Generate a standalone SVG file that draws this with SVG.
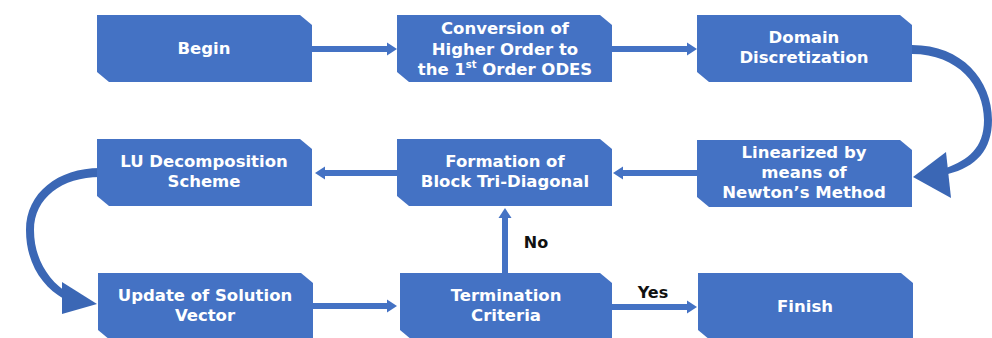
<svg xmlns="http://www.w3.org/2000/svg" width="992" height="338" viewBox="0 0 992 338">
<defs>
<style>
.box{fill:#4472C4;}
.t{font-family:"DejaVu Sans","Open Sans",sans-serif;font-weight:bold;font-size:16.5px;fill:#FFFFFF;text-anchor:middle;}
.lbl{font-family:"DejaVu Sans","Open Sans",sans-serif;font-weight:bold;font-size:16px;fill:#111111;text-anchor:middle;}
.shaft{stroke:#4472C4;stroke-width:6;fill:none;}
.curve{fill:#3B67B5;}
.head{fill:#4472C4;}
.chead{fill:#3B67B5;}
</style>
</defs>
<rect width="992" height="338" fill="#FFFFFF"/>
<g id="connectors">
<line class="shaft" x1="312" y1="49" x2="389" y2="49"/>
<polygon class="head" points="397,49 387,42.5 387,55.5"/>
<line class="shaft" x1="612" y1="49" x2="689" y2="49"/>
<polygon class="head" points="697,49 687,42.5 687,55.5"/>
<path class="curve" d="M912,45 C962,45 992,80 992,120 C992,150 976,167 948,174 L946,168 C968,160 984,148 984,120 C984,86 958,54 912,54 Z"/>
<polygon class="chead" points="913,177 946,152 951,198"/>
<line class="shaft" x1="697" y1="173" x2="621" y2="173"/>
<polygon class="head" points="613,173 623,166.5 623,179.5"/>
<line class="shaft" x1="397" y1="173" x2="323" y2="173"/>
<polygon class="head" points="315,173 325,166.5 325,179.5"/>
<path class="curve" d="M100,168 C58,168 26,193 26,230 C26,264 43,287 64,299 L68,293 C50,282 34,260 34,230 C34,198 62,177 100,177 Z"/>
<polygon class="chead" points="97,304 62,282 62,314"/>
<line class="shaft" x1="313" y1="306" x2="389" y2="306"/>
<polygon class="head" points="397,306 387,299.5 387,312.5"/>
<line class="shaft" x1="505" y1="273" x2="505" y2="216"/>
<polygon class="head" points="505,208 498.5,218 511.5,218"/>
<line class="shaft" x1="612" y1="307" x2="689" y2="307"/>
<polygon class="head" points="697,307 687,300.5 687,313.5"/>
<text class="lbl" x="536" y="248">No</text>
<text class="lbl" x="653" y="298">Yes</text>
</g>
<g id="begin">
<path class="box" d="M97,15 H300 L312,25 V82 H109 L97,72 Z"/>
<text class="t" x="204" y="54">Begin</text>
</g>
<g id="conversion">
<path class="box" d="M397,15 H600 L612,25 V82 H409 L397,72 Z"/>
<text class="t" x="505" y="34">Conversion of</text>
<text class="t" x="505" y="55">Higher Order to</text>
<text class="t" x="505" y="75">the 1<tspan font-size="10" dy="-7">st</tspan><tspan dy="7"> Order ODES</tspan></text>
</g>
<g id="domain">
<path class="box" d="M697,15 H900 L912,25 V82 H709 L697,72 Z"/>
<text class="t" x="804" y="43">Domain</text>
<text class="t" x="804" y="63">Discretization</text>
</g>
<g id="linearized">
<path class="box" d="M697,140 H900 L912,150 V207 H709 L697,197 Z"/>
<text class="t" x="804" y="158">Linearized by</text>
<text class="t" x="804" y="178">means of</text>
<text class="t" x="804" y="198">Newton’s Method</text>
</g>
<g id="formation">
<path class="box" d="M397,139 H600 L612,149 V206 H409 L397,196 Z"/>
<text class="t" x="505" y="167">Formation of</text>
<text class="t" x="505" y="187">Block Tri-Diagonal</text>
</g>
<g id="lu">
<path class="box" d="M97,139 H300 L312,149 V206 H109 L97,196 Z"/>
<text class="t" x="204" y="167">LU Decomposition</text>
<text class="t" x="204" y="187">Scheme</text>
</g>
<g id="update">
<path class="box" d="M98,273 H301 L313,283 V340 H110 L98,330 Z"/>
<text class="t" x="205" y="301">Update of Solution</text>
<text class="t" x="205" y="321">Vector</text>
</g>
<g id="termination">
<path class="box" d="M400,273 H600 L612,283 V340 H412 L400,330 Z"/>
<text class="t" x="506" y="301">Termination</text>
<text class="t" x="506" y="321">Criteria</text>
</g>
<g id="finish">
<path class="box" d="M698,273 H901 L913,283 V340 H710 L698,330 Z"/>
<text class="t" x="805" y="312">Finish</text>
</g>
</svg>
